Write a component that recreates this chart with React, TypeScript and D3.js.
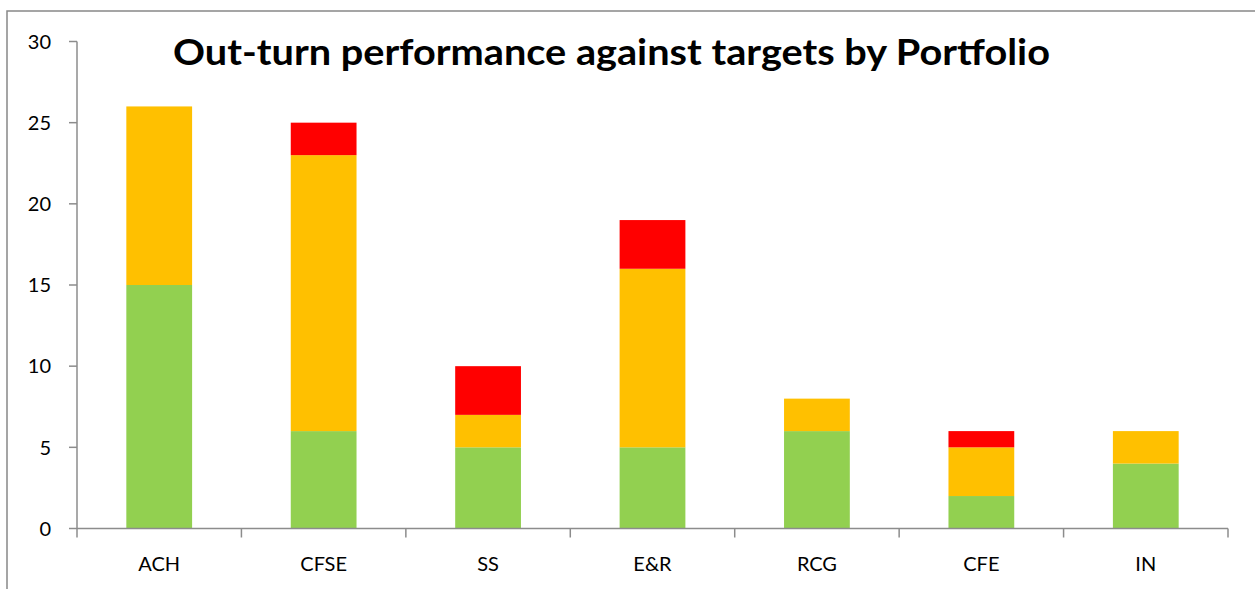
import React from "react";
import * as d3 from "d3";

const categories = ["ACH", "CFSE", "SS", "E&R", "RCG", "CFE", "IN"];
const greenValues = [15, 6, 5, 5, 6, 2, 4];
const amberValues = [11, 17, 2, 11, 2, 3, 2];
const redValues = [0, 2, 3, 3, 0, 1, 0];
const yTicks = [0, 5, 10, 15, 20, 25, 30];
const seriesKeys = ["green", "amber", "red"];
const seriesColors = ["#92D050", "#FFC000", "#FF0000"];

const W = 1255;
const H = 589;
const left = 77;
const right = 1228;
const top = 41.5;
const bottom = 528.5;

export default function App() {
  const x = d3.scaleBand<string>().domain(categories).range([left, right]).paddingInner(0).paddingOuter(0);
  const y = d3.scaleLinear().domain([0, 30]).range([bottom, top]);
  const rows = categories.map((c, i) => ({ cat: c, green: greenValues[i], amber: amberValues[i], red: redValues[i] }));
  const stacked = d3.stack<any>().keys(seriesKeys)(rows);
  const bw = x.bandwidth() * 0.4;
  const font = "Lato, 'Open Sans', sans-serif";
  const axisColor = "#8c8c8c";
  return (
    <svg width={W} height={H} style={{ position: "absolute", left: 0, top: 0 }}>
      <rect x={0} y={0} width={W} height={H} fill="#fff" />
      <rect x={7} y={11} width={W + 20} height={H + 20} fill="none" stroke="#888" strokeWidth={1.5} />
      {stacked.map((s, si) => (
        <g key={si} fill={seriesColors[si]}>
          {s.map((d, i) =>
            d[1] - d[0] > 0 ? (
              <rect
                key={i}
                x={(x(categories[i]) as number) + x.bandwidth() / 2 - bw / 2}
                y={y(d[1])}
                width={bw}
                height={y(d[0]) - y(d[1])}
              />
            ) : null
          )}
        </g>
      ))}
      {/* y axis */}
      <line x1={left} x2={left} y1={top} y2={bottom} stroke={axisColor} strokeWidth={1.5} />
      {yTicks.map((t) => (
        <g key={t}>
          <line x1={left - 8} x2={left} y1={y(t)} y2={y(t)} stroke={axisColor} strokeWidth={1.5} />
          <text x={51} y={y(t)} dy="0.36em" textAnchor="end" fontFamily={font} fontSize={20} fill="#000">
            {t}
          </text>
        </g>
      ))}
      {/* x axis */}
      <line x1={left} x2={right} y1={bottom} y2={bottom} stroke={axisColor} strokeWidth={1.5} />
      {categories.concat(["__end"]).map((c, i) => {
        const xx = i < categories.length ? (x(c) as number) : right;
        return <line key={i} x1={xx} x2={xx} y1={bottom} y2={bottom + 9} stroke={axisColor} strokeWidth={1.5} />;
      })}
      {categories.map((c) => (
        <text
          key={c}
          x={(x(c) as number) + x.bandwidth() / 2}
          y={571}
          textAnchor="middle"
          fontFamily={font}
          fontSize={20}
          fill="#000"
        >
          {c}
        </text>
      ))}
      <text
        x={173}
        y={65}
        fontFamily={font}
        fontWeight="bold"
        fontSize={37}
        fill="#000"
        textLength={877}
        lengthAdjust="spacingAndGlyphs"
      >
        Out-turn performance against targets by Portfolio
      </text>
    </svg>
  );
}
